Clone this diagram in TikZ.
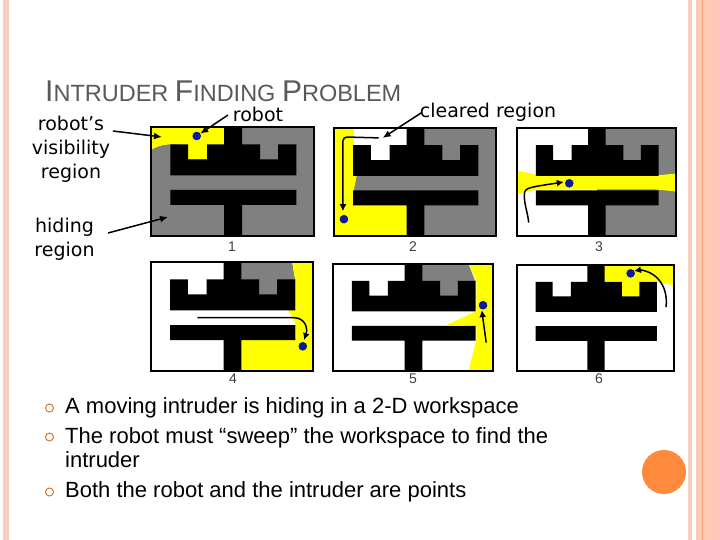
\documentclass[tikz,border=0pt]{standalone}
\usepackage{fontspec}
\setmainfont{Liberation Sans}
\newfontfamily\notefont{DejaVu Sans}
\usepackage{tikz}
\usetikzlibrary{arrows.meta, positioning}
\definecolor{salmon}{HTML}{FCC9B6}
\definecolor{palesalmon}{HTML}{F6CDBE}
\definecolor{warmsalmon}{HTML}{FFCBAE}
\definecolor{deepsalmon}{HTML}{F0A27E}
\definecolor{dotorange}{HTML}{FF8A3C}
\definecolor{hidegray}{HTML}{808080}
\definecolor{seenyellow}{HTML}{FFFF00}
\definecolor{titlegray}{HTML}{595959}
\definecolor{robotblue}{HTML}{0A1AA8}
\tikzstyle{hide} = [fill=hidegray, draw=none]
\tikzstyle{seen} = [fill=seenyellow, draw=none]
\tikzstyle{cleared} = [fill=white, draw=none]
\tikzstyle{wall} = [fill=black, draw=none]
\tikzstyle{frame} = [draw=black, line width=1.6pt]
\tikzstyle{trail} = [draw=black, line width=1.5pt, -{Latex[length=7pt,width=7pt]}]
\tikzstyle{robot} = [circle, fill=robotblue, draw=black!60!blue, inner sep=0pt, minimum size=8pt]
\tikzstyle{note} = [font=\notefont\fontsize{19}{24}\selectfont, align=center, inner sep=0pt]
\tikzstyle{pointer} = [draw=black, line width=1.5pt, -{Latex[length=8pt,width=7pt]}]
\tikzstyle{label} = [font=\fontsize{14}{14}\selectfont, text=black!75, inner sep=0pt]
\tikzstyle{body} = [font=\fontsize{22}{24}\selectfont, anchor=base west, inner sep=0pt, align=left]
\tikzstyle{bullet} = [circle, draw=dotorange!85!black, line width=1pt, fill=white, inner sep=0pt, minimum size=8pt]
% the obstacles and the outline of one panel
\newcommand{\walls}{
  \path [wall] (73,0) -- (91,0) -- (91,17.3) -- (109,17.3) -- (109,32.3) -- (127,32.3) -- (127,17.3) -- (145.3,17.3)
    -- (145.3,48.3) -- (19.3,48.3) -- (19.3,17.3) -- (37,17.3) -- (37,32.3) -- (56,32.3) -- (56,17.3) -- (73,17.3) -- cycle;
  \path [wall] (19.3,63) -- (145.3,63) -- (145.3,78) -- (91,78) -- (91,109) -- (73,109) -- (73,78) -- (19.3,78) -- cycle;
  \draw [frame] (0,0) rectangle (163,109);
}
\begin{document}
\begin{tikzpicture}[x=1pt, y=-1pt]
  \useasboundingbox (0,0) rectangle (720,540);
  \fill [white] (0,0) rectangle (720,540);
  % Borde
  \fill [palesalmon] (3,0) rectangle (9,540);
  \fill [palesalmon] (688,0) rectangle (692,540);
  \fill [salmon] (696,0) rectangle (720,540);
  \fill [warmsalmon] (702,0) rectangle (708,540);
  \fill [deepsalmon] (702,0) rectangle (703,540);
  \node [circle, fill=dotorange, inner sep=0pt, minimum size=44pt] (dot) at (664,472) {};

  % Titulo
  \node [anchor=base west, inner sep=0pt, text=titlegray] (title) at (45,102)
    {\fontsize{30}{30}\selectfont I\fontsize{23.5}{30}\selectfont NTRUDER \fontsize{30}{30}\selectfont F\fontsize{23.5}{30}\selectfont INDING \fontsize{30}{30}\selectfont P\fontsize{23.5}{30}\selectfont ROBLEM};

  % Panel 1
  \begin{scope}[shift={(151,127)}]
    \path [hide] (0,0) rectangle (163,109);
    \path [seen] (0,0) -- (73,0) -- (73,18) -- (56,18) -- (56,32.3) -- (37,32.3) -- (37,18) -- (19.3,17.3) .. controls (10,18) and (5,20) .. (0,23) -- cycle;
    \walls
    \node [robot] (r1) at (45.7,9) {};
    \coordinate (seen1) at (11,10);
    \coordinate (hide1) at (17,90);
  \end{scope}

  % Panel 2
  \begin{scope}[shift={(334,128)}, xscale=0.994, yscale=0.991]
    \path [hide] (0,0) rectangle (163,109);
    \path [cleared] (19.3,0) rectangle (73,18);
    \path [cleared] (37,17) rectangle (56,33);
    \path [seen] (0,0) rectangle (20,109);
    \path [seen] (0,78) rectangle (73,109);
    \path [seen] (19,47) -- (23,47) -- (20,63) -- (19,63) -- cycle;
    \walls
    \coordinate (c2) at (49,10);
    \path [trail, rounded corners=4pt] (45,10) -- (9,9) -- (9,84);
    \node [robot] (r2) at (10,92) {};
  \end{scope}

  % Panel 3
  \begin{scope}[shift={(517,128)}, xscale=0.975, yscale=0.991]
    \path [hide] (73,0) rectangle (163,109);
    \path [cleared] (0,0) rectangle (82,109);
    \path [seen] (0,43) -- (20,47) -- (142,48) -- (163,46) -- (163,64) -- (142,62) -- (20,62) -- (0,67) -- cycle;
    \walls
    \path [trail] (12,95.5) .. controls (11,85) and (7,76) .. (7.5,67) .. controls (8,60) and (12,60) .. (48,54.5);
    \node [robot] (r3) at (53.6,55.8) {};
  \end{scope}

  % Panel 4
  \begin{scope}[shift={(151,262)}, xscale=0.994]
    \path [cleared] (0,0) rectangle (163,109);
    \path [hide] (90,0) -- (142,0) -- (145,18) -- (127,18) -- (127,33) -- (109,33) -- (109,18) -- (90,18) -- cycle;
    \path [seen] (142,0) -- (163,0) -- (163,109) -- (90,109) -- (90,77) -- (146,77) -- (146,63) -- (138,48) -- (146,48) -- (146,17) -- (145,17) -- cycle;
    \walls
    \path [trail] (46.7,55.7) -- (144,55.7) .. controls (155,56) and (158,66) .. (154,78);
    \node [robot] (r4) at (152.7,84.3) {};
  \end{scope}

  % Panel 5
  \begin{scope}[shift={(333,264)}, xscale=0.982, yscale=0.982]
    \path [cleared] (0,0) rectangle (163,109);
    \path [hide] (90,0) -- (138,0) -- (145,18) -- (127,18) -- (127,33) -- (109,33) -- (109,18) -- (90,18) -- cycle;
    \path [seen] (138,0) -- (163,0) -- (163,109) -- (138,109) -- (146,77) -- (146,63) -- (116,62) -- (146,48) -- (146,17) -- cycle;
    \walls
    \path [trail] (156,80) -- (151.5,47);
    \node [robot] (r5) at (152.8,42) {};
  \end{scope}

  % Panel 6
  \begin{scope}[shift={(517,265)}, xscale=0.963, yscale=0.972]
    \path [cleared] (0,0) rectangle (163,109);
    \path [seen] (90,0) -- (163,0) -- (163,21) -- (145,17) -- (127,17) -- (127,32.3) -- (109,32.3) -- (109,17) -- (90,17) -- cycle;
    \walls
    \path [trail] (154.7,43.3) .. controls (157,25) and (148,8) .. (128,5) -- (121.5,6.2);
    \node [robot] (r6) at (118,8.6) {};
  \end{scope}

  % Numeros
  \node [label] (n1) at (232,247) {1};
  \node [label] (n2) at (413,247) {2};
  \node [label] (n3) at (599,247) {3};
  \node [label] (n4) at (233,379) {4};
  \node [label] (n5) at (413,379) {5};
  \node [label] (n6) at (599,379) {6};

  % Etiquetas
  \node [note] (vis) at (71,149) {robot’s\\visibility\\region};
  \node [note] (hid) at (64.5,239) {hiding\\region};
  \node [note] (rob) at (258,114) {robot};
  \node [note] (clr) at (488,112) {cleared region};
  \coordinate (visfrom) at (113,131);
  \coordinate (hidfrom) at (108,233);
  \coordinate (robfrom) at (228,115);
  \coordinate (clrfrom) at (421,113);

  % Lineas
  \path [pointer] (visfrom) -- (seen1);
  \path [pointer] (hidfrom) -- (hide1);
  \path [pointer] (robfrom) -- (r1);
  \path [pointer] (clrfrom) -- (c2);

  % Texto
  \node [bullet] (b1) at (49.5,408) {};
  \node [bullet] (b2) at (49.5,437) {};
  \node [bullet] (b3) at (49.5,492) {};
  \node [body] (t1) at (65,413) {A moving intruder is hiding in a 2-D workspace};
  \node [body] (t2) at (65,443) {The robot must “sweep” the workspace to find the};
  \node [body] (t3) at (65,467) {intruder};
  \node [body] (t4) at (65,497) {Both the robot and the intruder are points};
\end{tikzpicture}
\end{document}
